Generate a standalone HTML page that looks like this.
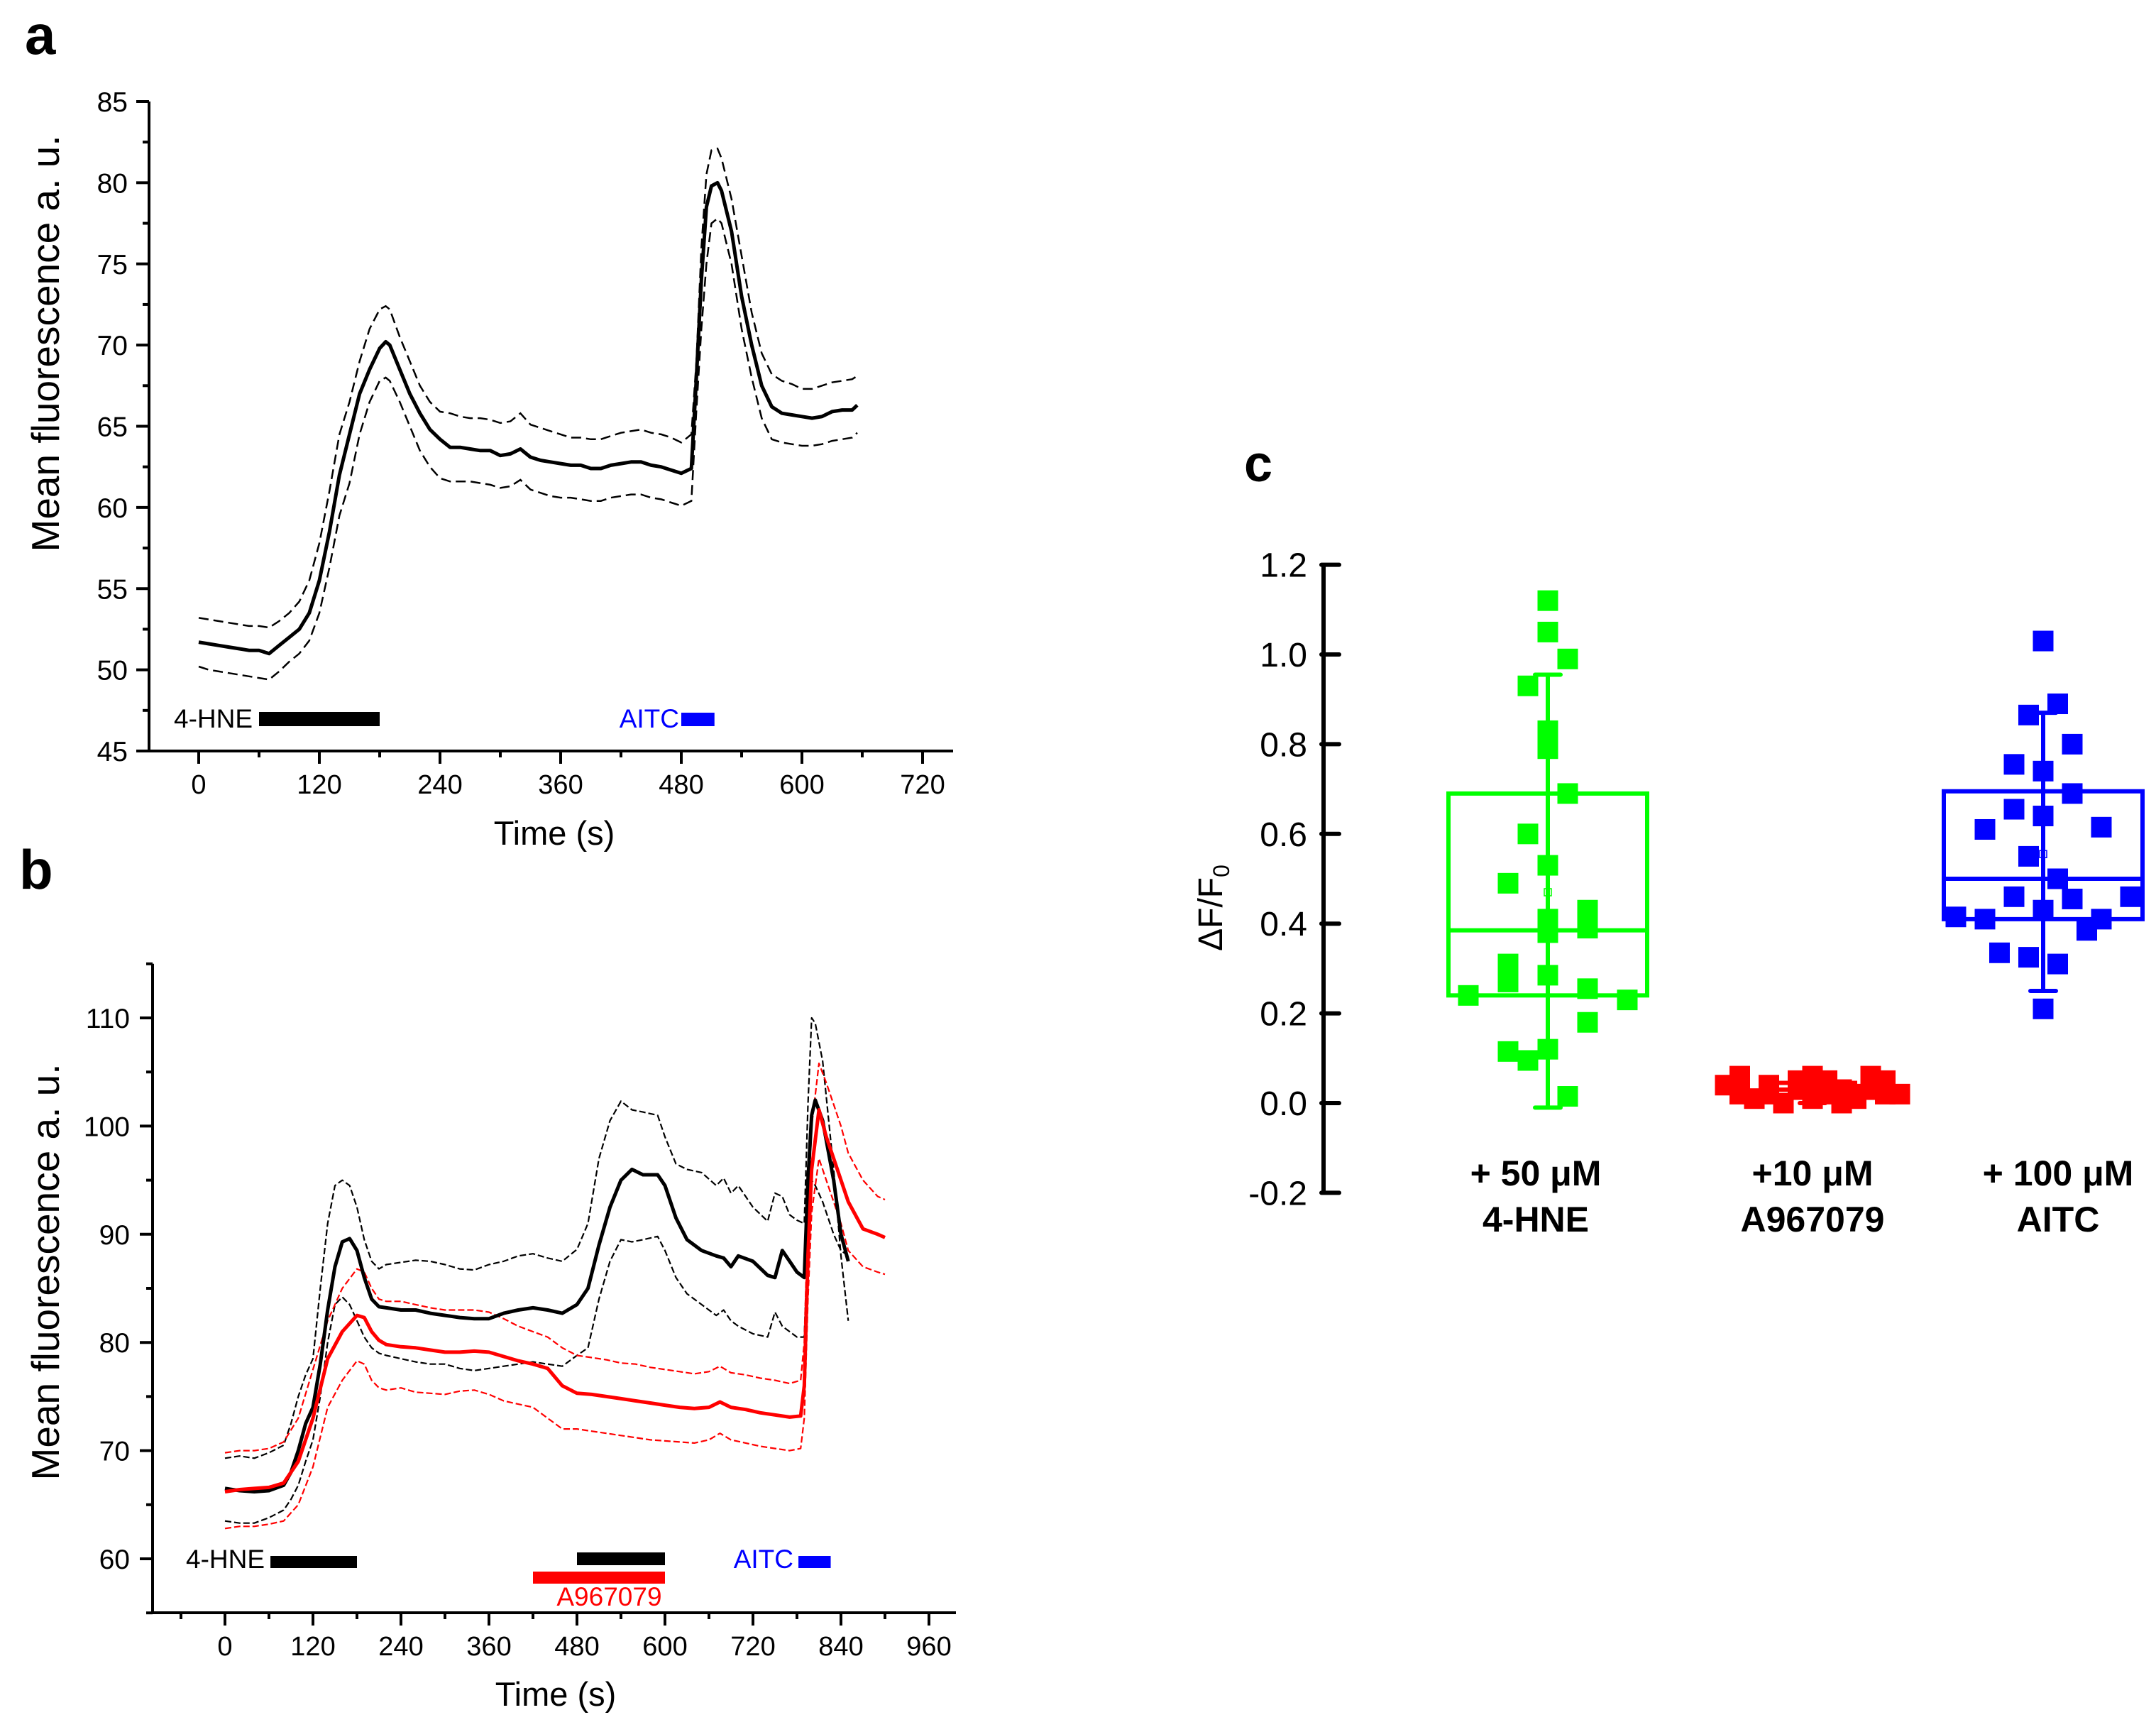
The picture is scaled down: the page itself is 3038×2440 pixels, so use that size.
<!DOCTYPE html>
<html><head><meta charset="utf-8"><style>
html,body{margin:0;padding:0;background:#fff}
svg{display:block}
text{font-family:"Liberation Sans",Arial,sans-serif}
</style></head><body>
<svg id="fig" width="3038" height="2440" viewBox="0 0 3038 2440" xmlns="http://www.w3.org/2000/svg">
<rect width="3038" height="2440" fill="#fff"/>
<g id="pa"></g>
<g id="pb"></g>
<g id="pc"></g>
</svg>
<script>
// ---------- Panel a data ----------
const tA=[0,10,20,30,40,50,60,70,80,90,100,110,120,130,140,150,160,170,180,186,190,200,210,220,230,240,250,260,270,280,290,300,310,320,330,340,350,360,370,380,390,400,410,420,430,440,450,460,470,480,490,495,500,505,510,516,520,530,540,550,560,570,580,590,600,610,620,630,640,650,655];
const meanA=[51.7,51.6,51.5,51.4,51.3,51.2,51.2,51.0,51.5,52.0,52.5,53.5,55.5,58.5,62.0,64.5,67,68.5,69.8,70.2,70.0,68.5,67.0,65.8,64.8,64.2,63.7,63.7,63.6,63.5,63.5,63.2,63.3,63.6,63.1,62.9,62.8,62.7,62.6,62.6,62.4,62.4,62.6,62.7,62.8,62.8,62.6,62.5,62.3,62.1,62.4,68,74,78.5,79.8,80.0,79.5,77,73,70,67.5,66.2,65.8,65.7,65.6,65.5,65.6,65.9,66.0,66.0,66.3];
const upA=[53.2,53.1,53.0,52.9,52.8,52.7,52.7,52.6,53.0,53.5,54.2,55.5,57.8,61,64.5,66.5,69,71,72.2,72.4,72.2,70.5,69,67.5,66.5,65.9,65.8,65.6,65.5,65.5,65.4,65.2,65.3,65.8,65.1,64.9,64.7,64.5,64.3,64.3,64.2,64.2,64.4,64.6,64.7,64.8,64.6,64.5,64.3,64.0,64.5,69,76,80.5,82,82.1,81.5,79,75.5,72,69.5,68.2,67.8,67.6,67.3,67.3,67.5,67.7,67.8,67.9,68.1];
const loA=[50.2,50.0,49.9,49.8,49.7,49.6,49.5,49.4,49.9,50.5,51.0,51.8,53.5,56.3,59.5,61.5,64.5,66.5,67.8,68.0,67.8,66.5,65,63.5,62.5,61.8,61.6,61.6,61.6,61.5,61.4,61.2,61.3,61.7,61.1,60.9,60.7,60.6,60.6,60.5,60.4,60.4,60.6,60.7,60.8,60.8,60.6,60.5,60.3,60.1,60.4,66,71,75,77.5,77.8,77.5,75,71,68,65.5,64.2,64,63.9,63.8,63.8,63.9,64.1,64.2,64.3,64.6];
const yTicksA=[45,50,55,60,65,70,75,80,85];
const xTicksA=[0,120,240,360,480,600,720];
// ---------- Panel b data ----------
const tB=[0,20,40,60,80,90,100,110,120,130,140,150,160,170,180,190,200,210,220,240,260,280,300,320,340,360,380,400,420,440,460,480,495,510,525,540,555,570,590,600,615,630,650,670,680,690,700,720,740,750,760,770,780,790,795,800,805,815,830,840,850];
const meanB=[66.5,66.3,66.2,66.3,66.8,68,70,72.5,74,78,83,87,89.3,89.6,88.5,86,84,83.3,83.2,83.0,83.0,82.7,82.5,82.3,82.2,82.2,82.7,83.0,83.2,83.0,82.7,83.5,85,89,92.5,95,96,95.5,95.5,94.5,91.5,89.5,88.5,88,87.8,87,88,87.5,86.2,86.0,88.5,87.5,86.5,86.0,95,101,102.4,100.5,95,90,87.5];
const upB=[69.3,69.5,69.3,69.8,70.5,72.5,75,77,78.5,85,91,94.5,95,94.5,92.5,89.5,87.5,86.8,87.2,87.4,87.6,87.5,87.2,86.8,86.7,87.2,87.5,88.0,88.2,87.8,87.5,88.6,91,97,100.5,102.3,101.5,101.3,101,99,96.5,96,95.7,94.5,95.2,93.8,94.5,92.5,91.2,93.8,93.5,91.8,91.3,91.0,102,110,109.5,106,96,88,82];
const loB=[63.5,63.3,63.3,63.8,64.5,65.5,66.8,69,71,75,80,83.5,84.2,83.5,82,80.5,79.5,79.0,78.8,78.5,78.2,78.0,78.0,77.6,77.4,77.6,77.8,78.0,78.2,78.0,77.8,78.8,79.5,84,87.5,89.5,89.3,89.5,89.8,88.5,86,84.5,83.5,82.5,83,82.0,81.5,80.8,80.5,82.8,81.5,81.0,80.5,80.5,90,95,94.5,93,90,88.5,88];
const tR=[0,20,40,60,80,100,120,140,160,180,190,200,210,220,240,260,280,300,320,340,360,380,400,420,440,460,480,500,520,540,560,580,600,620,640,660,675,690,710,730,750,770,785,790,795,800,810,820,830,840,850,870,890,900];
const meanR=[66.2,66.4,66.5,66.6,67,69,73,78.5,81,82.5,82.3,81,80.2,79.8,79.6,79.5,79.3,79.1,79.1,79.2,79.1,78.7,78.3,78.0,77.6,76.0,75.3,75.2,75.0,74.8,74.6,74.4,74.2,74.0,73.9,74.0,74.5,74.0,73.8,73.5,73.3,73.1,73.2,76,88,96,101.5,99,97,95,93,90.5,90,89.7];
const upR=[69.8,70.0,70.0,70.2,70.8,73,77.5,82,85,86.8,86.5,85,84,83.8,83.8,83.5,83.2,83.0,83.0,83.0,82.8,82.2,81.5,81.0,80.5,79.5,78.8,78.6,78.4,78.1,78.0,77.7,77.5,77.3,77.1,77.3,77.8,77.2,77.0,76.7,76.5,76.2,76.5,80,92,100,105.8,104,102,100,97.5,95,93.5,93.2];
const loR=[62.8,63.0,63.0,63.2,63.5,65,68.5,74,76.5,78.3,78.0,76.5,75.8,75.6,75.8,75.4,75.3,75.2,75.5,75.6,75.2,74.6,74.3,74.0,73.0,72.0,72.0,71.8,71.6,71.4,71.2,71.0,70.9,70.8,70.7,71.0,71.6,71.0,70.7,70.4,70.2,70.0,70.2,73,84,92,97,95,93,91,88.5,87,86.5,86.3];
const yTicksB=[60,70,80,90,100,110];
const xTicksB=[0,120,240,360,480,600,720,840,960];
// ---------- Panel c data ----------
const catsC=["4-HNE","A967079","AITC"];
const greenVals=[1.12,1.05,0.99,0.93,0.83,0.79,0.69,0.60,0.53,0.49,0.41,0.38,0.43,0.39,0.31,0.27,0.285,0.255,0.24,0.23,0.18,0.115,0.095,0.12,0.015];
const greenJit=[0,0,1,-1,0,0,1,-1,0,-2,0,0,2,2,-2,-2,0,2,-4,4,2,-2,-1,0,1];
const redVals=[0.04,0.06,0.02,0.01,0.02,0.00,0.03,0.05,0.06,0.03,0.05,0.02,0.00,0.03,0.01,0.02,0.03,0.06,0.05,0.02,0.02,0.04,0.01];
const redJit=[-6,-5,-5,-4,-3,-2,-1,-1,0,0,1,1,2,2,3,3,4,4,5,5,6,-3,0];
const blueVals=[1.03,0.89,0.865,0.80,0.755,0.74,0.69,0.655,0.64,0.61,0.615,0.55,0.50,0.46,0.455,0.46,0.415,0.41,0.43,0.41,0.385,0.335,0.325,0.31,0.21];
const blueJit=[0,1,-1,2,-2,0,2,-2,0,-4,4,-1,1,-2,2,6,-6,-4,0,4,3,-3,-1,1,0];
// box stats: [whiskerLow, q1, median, q3, whiskerHigh, mean]
const greenBox=[-0.01,0.24,0.385,0.69,0.955,0.47];
const redBox=[0.0,0.015,0.03,0.045,0.065,0.03];
const blueBox=[0.25,0.41,0.50,0.695,0.87,0.555];
const yTicksC=[-0.2,0.0,0.2,0.4,0.6,0.8,1.0,1.2];

const NS="http://www.w3.org/2000/svg";
function mk(parent,tag,attrs){const e=document.createElementNS(NS,tag);for(const k in attrs)e.setAttribute(k,attrs[k]);parent.appendChild(e);return e;}
function txt(parent,x,y,s,size,anchor,fill,weight){const e=mk(parent,'text',{x:x,y:y,'font-size':size,'text-anchor':anchor||'middle',fill:fill||'#000','font-weight':weight||'normal'});e.textContent=s;return e;}
function pathFrom(ts,vs,X,Y){let d='';for(let i=0;i<ts.length;i++){d+=(i?'L':'M')+X(ts[i]).toFixed(1)+','+Y(vs[i]).toFixed(1);}return d;}

// ===== Panel a =====
(function(){
const g=document.getElementById('pa');
const X=t=>280+t*(170/120), Y=v=>143+(85-v)*(915/40);
const lt=txt(g,35,76,'a',78,'start','#000','bold');

const ax=mk(g,'path',{d:`M210,143 L210,1058 L1343,1058`,stroke:'#000','stroke-width':4,fill:'none'});

for(let v=45;v<=85;v+=2.5){const major=(v%5===0);mk(g,'line',{x1:major?192:201,x2:210,y1:Y(v),y2:Y(v),stroke:'#000','stroke-width':4});}
yTicksA.forEach(v=>{const e=txt(g,180,Y(v)+14,String(v),39,'end');});
for(let t=0;t<=720;t+=60){const major=(t%120===0);mk(g,'line',{x1:X(t),x2:X(t),y1:1058,y2:major?1076:1067,stroke:'#000','stroke-width':4});}
xTicksA.forEach(t=>{const e=txt(g,X(t),1118,String(t),38);});
const yt=txt(g,0,0,'Mean fluorescence a. u.',55);yt.setAttribute('transform','translate(83,484) rotate(-90)');

const xt=txt(g,781,1190,'Time (s)',47);
const u=mk(g,'path',{d:pathFrom(tA,upA,X,Y),stroke:'#000','stroke-width':2.5,fill:'none','stroke-dasharray':'14,7'});

const l=mk(g,'path',{d:pathFrom(tA,loA,X,Y),stroke:'#000','stroke-width':2.5,fill:'none','stroke-dasharray':'14,7'});

const m=mk(g,'path',{d:pathFrom(tA,meanA,X,Y),stroke:'#000','stroke-width':5,fill:'none','stroke-linejoin':'round'});

const t1=txt(g,245,1025,'4-HNE',37,'start');
const b1=mk(g,'rect',{x:X(60),y:1003,width:X(180)-X(60),height:20,fill:'#000'});
const t2=txt(g,957,1025,'AITC',37,'end','#0000ff');
const b2=mk(g,'rect',{x:X(480),y:1004,width:X(513)-X(480),height:19,fill:'#0000ff'});
})();

// ===== Panel b =====
(function(){
const g=document.getElementById('pb');
const X=t=>317+t*(124/120), Y=v=>2196+(60-v)*15.24;
const lt=txt(g,27,1252,'b',78,'start','#000','bold');
const ax=mk(g,'path',{d:`M215,${Y(115)} L215,2272 L1347,2272`,stroke:'#000','stroke-width':4,fill:'none'});

for(let v=55;v<=115;v+=5){const major=(v%10===0);mk(g,'line',{x1:major?197:206,x2:215,y1:Y(v),y2:Y(v),stroke:'#000','stroke-width':4});}
yTicksB.forEach(v=>{const e=txt(g,183,Y(v)+14,String(v),39,'end');});
for(let t=-60;t<=960;t+=60){const major=(t%120===0);mk(g,'line',{x1:X(t),x2:X(t),y1:2272,y2:major?2290:2281,stroke:'#000','stroke-width':4});}
xTicksB.forEach(t=>{const e=txt(g,X(t),2332,String(t),38);});
const yt=txt(g,0,0,'Mean fluorescence a. u.',55);yt.setAttribute('transform','translate(83,1792) rotate(-90)');

const xt=txt(g,783,2403,'Time (s)',47);
const series=[[tB,upB,'#000',2.2,'9,4','upper-sem-black-b'],[tB,loB,'#000',2.2,'9,4','lower-sem-black-b'],[tR,upR,'#ff0000',2.2,'9,4','upper-sem-red-b'],[tR,loR,'#ff0000',2.2,'9,4','lower-sem-red-b'],[tB,meanB,'#000',5,'','mean-black-b'],[tR,meanR,'#ff0000',5,'','mean-red-b']];
series.forEach(s=>{const p=mk(g,'path',{d:pathFrom(s[0],s[1],X,Y),stroke:s[2],'stroke-width':s[3],fill:'none','stroke-linejoin':'round'});if(s[4])p.setAttribute('stroke-dasharray',s[4]);

});
const t1=txt(g,262,2209,'4-HNE',37,'start');
const b1=mk(g,'rect',{x:X(62),y:2192,width:X(180)-X(62),height:17,fill:'#000'});
const b2=mk(g,'rect',{x:X(480),y:2187,width:X(600)-X(480),height:18,fill:'#000'});
const b3=mk(g,'rect',{x:X(420),y:2214,width:X(600)-X(420),height:17,fill:'#ff0000'});
const t3=txt(g,X(524),2262,'A967079',37,'middle','#ff0000');
const t2=txt(g,1118,2209,'AITC',37,'end','#0000ff');
const b4=mk(g,'rect',{x:X(782),y:2192,width:X(826)-X(782),height:17,fill:'#0000ff'});
})();

// ===== Panel c =====
(function(){
const g=document.getElementById('pc');
const Y=v=>1554-v*632;
const centers=[2181,2554,2879];
const lt=txt(g,1753,678,'c',72,'start','#000','bold');
const ax=mk(g,'path',{d:`M1865,${Y(1.2)} L1865,${Y(-0.2)}`,stroke:'#000','stroke-width':6,fill:'none'});

yTicksC.forEach(v=>{mk(g,'line',{x1:1862,x2:1887,y1:Y(v),y2:Y(v),stroke:'#000','stroke-width':6,'stroke-linecap':'round'});
const e=txt(g,1842,Y(v)+17,v.toFixed(1),48,'end');});
const yt=txt(g,0,0,'ΔF/F',48);yt.setAttribute('transform','translate(1722,1279) rotate(-90)');
const sub=mk(yt,'tspan',{'font-size':32,dy:10});sub.textContent='0';

const labels=[['+ 50 μM','4-HNE',2164],['+10 μM','A967079',2554],['+ 100 μM','AITC',2900]];
labels.forEach(L=>{const a=txt(g,L[2],1670,L[0],50,'middle','#000','bold');
const b=txt(g,L[2],1735,L[1],50,'middle','#000','bold');});
const groups=[[greenBox,greenVals,greenJit,'#00ff00',28,140,'hne'],[redBox,redVals,redJit,'#ff0000',20.5,60,'a967079'],[blueBox,blueVals,blueJit,'#0000ff',20.5,140,'aitc']];
groups.forEach((G,i)=>{const c=centers[i],box=G[0],col=G[3],half=G[5];
const wk=mk(g,'line',{x1:c,x2:c,y1:Y(box[0]),y2:Y(box[4]),stroke:col,'stroke-width':6});
[box[0],box[4]].forEach(v=>mk(g,'line',{x1:c-18,x2:c+18,y1:Y(v),y2:Y(v),stroke:col,'stroke-width':6,'stroke-linecap':'round'}));
const bx=mk(g,'rect',{x:c-half,y:Y(box[3]),width:2*half,height:Y(box[1])-Y(box[3]),fill:'none',stroke:col,'stroke-width':6});
mk(g,'line',{x1:c-half,x2:c+half,y1:Y(box[2]),y2:Y(box[2]),stroke:col,'stroke-width':6});
mk(g,'rect',{x:c-5,y:Y(box[5])-5,width:10,height:10,fill:'none',stroke:col,'stroke-width':1.5});
G[1].forEach((v,j)=>{const s=mk(g,'rect',{x:c+G[2][j]*G[4]-14.5,y:Y(v)-14.5,width:29,height:29,fill:col});

});
});
})();
</script>
</body></html>
